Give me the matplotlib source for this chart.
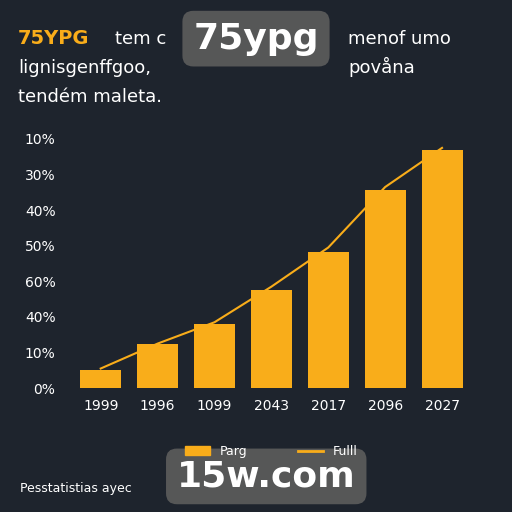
import matplotlib
matplotlib.use("Agg")
import matplotlib.pyplot as plt
from matplotlib.patches import Patch
from matplotlib.lines import Line2D

years = ["1999", "1996", "1099", "2043", "2017", "2096", "2027"]
bar_vals = [0.52, 1.24, 1.8, 2.77, 3.83, 5.56, 6.7]
line_vals = [0.55, 1.25, 1.85, 2.85, 3.95, 5.65, 6.75]
ytick_labels = ["0%", "10%", "40%", "60%", "50%", "40%", "30%", "10%"]

bg = "#1e242d"
orange = "#f9ad1a"
fig = plt.figure(figsize=(5.12, 5.12), dpi=100, facecolor=bg)
ax = fig.add_axes([0.13, 0.242, 0.80, 0.49], facecolor=bg)
x = list(range(len(years)))
ax.bar(x, bar_vals, width=0.72, color=orange, zorder=2)
ax.plot(x, line_vals, color=orange, lw=1.5, zorder=3)
ax.set_xlim(-0.6, 6.6)
ax.set_ylim(0, 7.05)
ax.set_yticks(range(8))
ax.set_yticklabels(ytick_labels, color="white", fontsize=10)
ax.set_xticks(x)
ax.set_xticklabels(years, color="white", fontsize=10)
ax.tick_params(length=0, pad=8)
for s in ax.spines.values():
    s.set_visible(False)

fig.text(0.035, 0.915, "75YPG", color=orange, fontsize=14, fontweight="bold")
fig.text(0.225, 0.915, "tem c", color="white", fontsize=13)
fig.text(0.68, 0.915, "menof umo", color="white", fontsize=13)
fig.text(0.035, 0.857, "lignisgenffgoo,", color="white", fontsize=13)
fig.text(0.68, 0.857, "povåna", color="white", fontsize=13)
fig.text(0.035, 0.800, "tendém maleta.", color="white", fontsize=13)
fig.text(0.50, 0.905, "75ypg", color="white", fontsize=26, fontweight="bold", ha="center",
         bbox=dict(boxstyle="round,pad=0.3", fc="#5a5a5a", ec="none", alpha=0.95))

fig.legend(handles=[Patch(color=orange, label="Parg"), Line2D([], [], color=orange, lw=2, label="Fulll")],
           loc="center", bbox_to_anchor=(0.53, 0.118), ncol=2, frameon=False,
           labelcolor="white", fontsize=9, columnspacing=4)
fig.text(0.04, 0.04, "Pesstatistias ayec", color="white", fontsize=9)
fig.text(0.52, 0.05, "15w.com", color="white", fontsize=26, fontweight="bold", ha="center",
         bbox=dict(boxstyle="round,pad=0.3", fc="#5a5a5a", ec="none", alpha=0.95))
fig.savefig("out.png", dpi=100, facecolor=bg)
